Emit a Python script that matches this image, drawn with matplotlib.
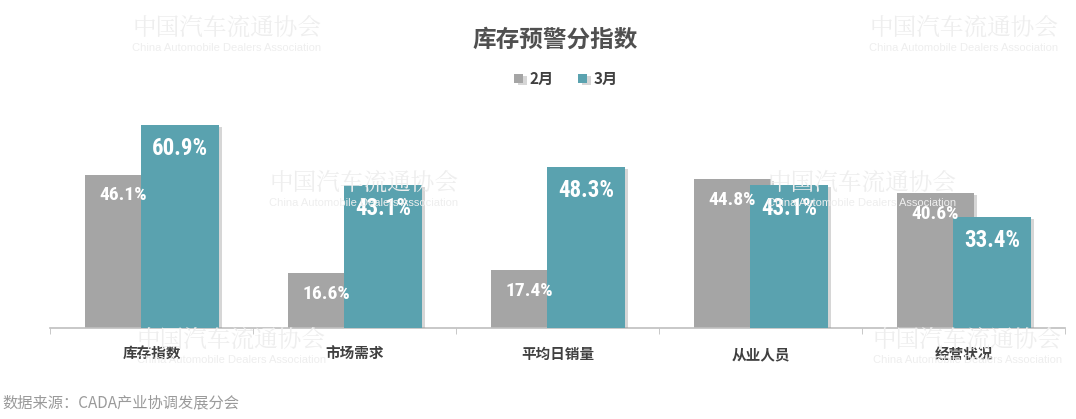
import matplotlib.pyplot as plt
import matplotlib.patheffects as pe
import numpy as np

plt.rcParams['font.family'] = ['Noto Sans CJK SC', 'DejaVu Sans']

categories = ["库存指数", "市场需求", "平均日销量", "从业人员", "经营状况"]
feb = [46.1, 16.6, 17.4, 44.8, 40.6]
mar = [60.9, 43.1, 48.3, 43.1, 33.4]
series_names = ["2月", "3月"]

gray = "#A5A5A5"
teal = "#5AA2AF"

fig = plt.figure(figsize=(10.76, 4.19), dpi=100)
ax = fig.add_axes([0.0465, 0.2172, 0.9433, 0.5561])

# faint watermarks
marks = [(0.123, 0.935), (0.808, 0.935), (0.25, 0.565), (0.713, 0.565), (0.127, 0.19), (0.811, 0.19)]
for wx, wy in marks:
    fig.text(wx, wy, "中国汽车流通协会", fontsize=17, color="#EEEEEE",
             family=['Noto Serif CJK SC', 'Noto Sans CJK SC'], va='center', zorder=0)
    fig.text(wx, wy - 0.05, "China Automobile Dealers Association", fontsize=8,
             color="#EEEEEE", family=['Liberation Sans', 'DejaVu Sans'], va='center', zorder=0)

x = np.arange(len(categories))
w = 0.38
off = 0.14
shadow = [pe.SimplePatchShadow(offset=(2.5, -1.5), shadow_rgbFace='#999999', alpha=0.4), pe.Normal()]
b1 = ax.bar(x - off, feb, w, color=gray, label=series_names[0], zorder=2)
b2 = ax.bar(x + off, mar, w, color=teal, label=series_names[1], zorder=3)
for b in list(b1) + list(b2):
    b.set_path_effects(shadow)

num_font = ['Liberation Sans Narrow', 'Roboto Condensed', 'Liberation Sans', 'DejaVu Sans']
for xi, v in zip(x - off, feb):
    ax.annotate(f"{v}%", (xi, v), xytext=(0, -15), textcoords='offset points',
                ha='center', va='center', color='white', fontsize=14, fontweight='bold',
                family=num_font, zorder=5)
for xi, v in zip(x + off, mar):
    ax.annotate(f"{v}%", (xi, v), xytext=(0, -17), textcoords='offset points',
                ha='center', va='center', color='white', fontsize=16.5, fontweight='bold',
                family=num_font, zorder=5)

ax.set_xlim(-0.5, 4.5)
ax.set_ylim(0, 70)
ax.set_yticks([])
for s in ['top', 'right', 'left']:
    ax.spines[s].set_visible(False)
ax.spines['bottom'].set_color('#BFBFBF')
ax.spines['bottom'].set_linewidth(1.2)
ax.set_xticks(np.arange(-0.5, 5, 1), minor=True)
ax.tick_params(axis='x', which='minor', length=4, color='#BFBFBF', direction='out')
ax.set_xticks(x)
ax.set_xticklabels(categories, fontsize=10.5, fontweight='bold', color='#404040')
ax.tick_params(axis='x', which='major', length=0, pad=13)
ax.patch.set_alpha(0)

fig.text(0.516, 0.905, "库存预警分指数", ha='center', va='center', fontsize=17,
         fontweight='bold', color='#505050')
ax.legend(loc='center', bbox_to_anchor=(0.526, 0.812), bbox_transform=fig.transFigure,
          ncol=2, frameon=False, handlelength=0.6, handleheight=0.6,
          columnspacing=1.6, handletextpad=0.4,
          prop={'weight': 'bold', 'size': 11})
for t in ax.get_legend().get_texts():
    t.set_color('#404040')

fig.text(0.002, 0.038, "数据来源：CADA产业协调发展分会", fontsize=11, color='#9A9A9A', va='center')

fig.savefig("out.png", dpi=100)
